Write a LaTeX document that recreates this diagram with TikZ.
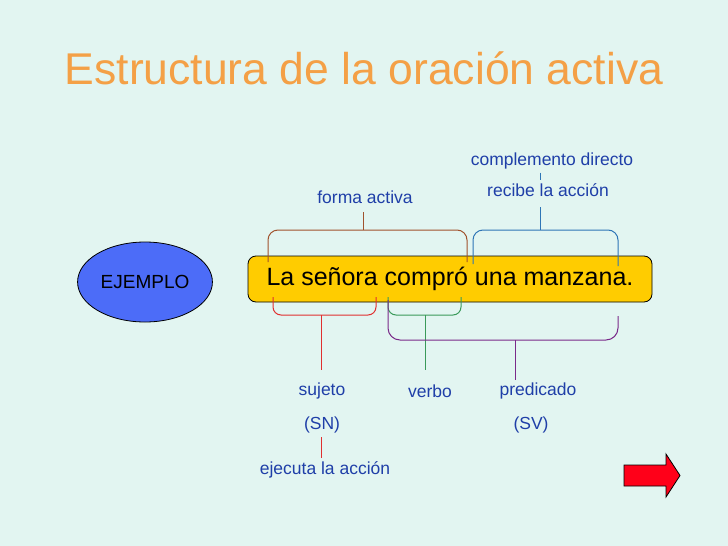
\documentclass[tikz,border=0pt]{standalone}
\usepackage{fontspec}
\setmainfont{Liberation Sans}
\usetikzlibrary{shapes.geometric}
\definecolor{fondo}{HTML}{E2F5F1}
\definecolor{titulo}{HTML}{F4A046}
\definecolor{azul}{HTML}{1F3FA8}
\definecolor{marron}{HTML}{A0522D}
\definecolor{celeste}{HTML}{2E75B6}
\definecolor{rojo}{HTML}{E03030}
\definecolor{verde}{HTML}{3A9A5A}
\definecolor{morado}{HTML}{7A2A8A}
\definecolor{elipse}{HTML}{4C6CF8}
\definecolor{amarillo}{HTML}{FFCC00}
\begin{document}
\begin{tikzpicture}[x=1pt,y=-1pt,
  etiqueta/.style={text=azul,font=\fontsize{17.5}{20}\selectfont},
  llave/.style={line width=1pt}]
        % Fondo
        \fill[fondo] (0,0) rectangle (728,546);
        \useasboundingbox (0,0) rectangle (728,546);
        \node[text=titulo,font=\fontsize{44.5}{50}\selectfont] (titulo) at (364,68) {Estructura de la oración activa};

        % Ejemplo
        \node[draw,line width=0.8pt,ellipse,fill=elipse,minimum width=114,minimum height=80,font=\fontsize{19}{22}\selectfont] (ejemplo) at (145,282) {EJEMPLO};
        \node[draw,line width=0.8pt,fill=amarillo,rounded corners=8,minimum width=404,minimum height=46,font=\fontsize{25}{29}\selectfont] (frase) at (450,279) {La señora compró una manzana.};

        % Llaves de arriba
        \draw[llave,marron,rounded corners=10] (268,262) -- (268,230) -- (467,230) -- (467,262);
        \draw[llave,marron] (363,230) -- (363,212);
        \node[etiqueta] (forma) at (365,197) {forma activa};
        \draw[llave,celeste,rounded corners=10] (473,264) -- (473,230) -- (618,230) -- (618,266);
        \draw[llave,celeste] (540,230) -- (540,207);
        \node[etiqueta] (recibe) at (548,190) {recibe la acción};
        \node[etiqueta] (complemento) at (552,161) {complemento directo};
        \draw[celeste] (complemento.south -| 540,0) -- (recibe.north -| 540,0);

        % Llaves de abajo
        \draw[llave,rojo,rounded corners=8] (273,297) -- (273,315) -- (376,315) -- (376,297);
        \draw[llave,rojo] (321,315) -- (321,370);
        \draw[llave,verde,rounded corners=8] (388,297) -- (388,315) -- (461,315) -- (461,297);
        \draw[llave,verde] (425,315) -- (425,370);
        \draw[llave,morado,rounded corners=12] (388,300) -- (388,340) -- (618,340) -- (618,316);
        \draw[llave,morado] (515,340) -- (515,380);
        \node[etiqueta] (sujeto) at (322,391) {sujeto};
        \node[etiqueta] (sn) at (322,425) {(SN)};
        \node[etiqueta] (ejecuta) at (325,470) {ejecuta la acción};
        \draw[rojo] (321,437) -- (321,458);
        \node[etiqueta] (verbo) at (430,391) {verbo};
        \node[etiqueta] (predicado) at (538,391) {predicado};
        \node[etiqueta] (sv) at (531,425) {(SV)};

        % Flecha
        \draw[fill=red!90!magenta,line width=0.8pt] (624,465) -- (666,465) -- (666,454) -- (680,475.5) -- (666,497) -- (666,486) -- (624,486) -- cycle;
    \end{tikzpicture}
\end{document}
